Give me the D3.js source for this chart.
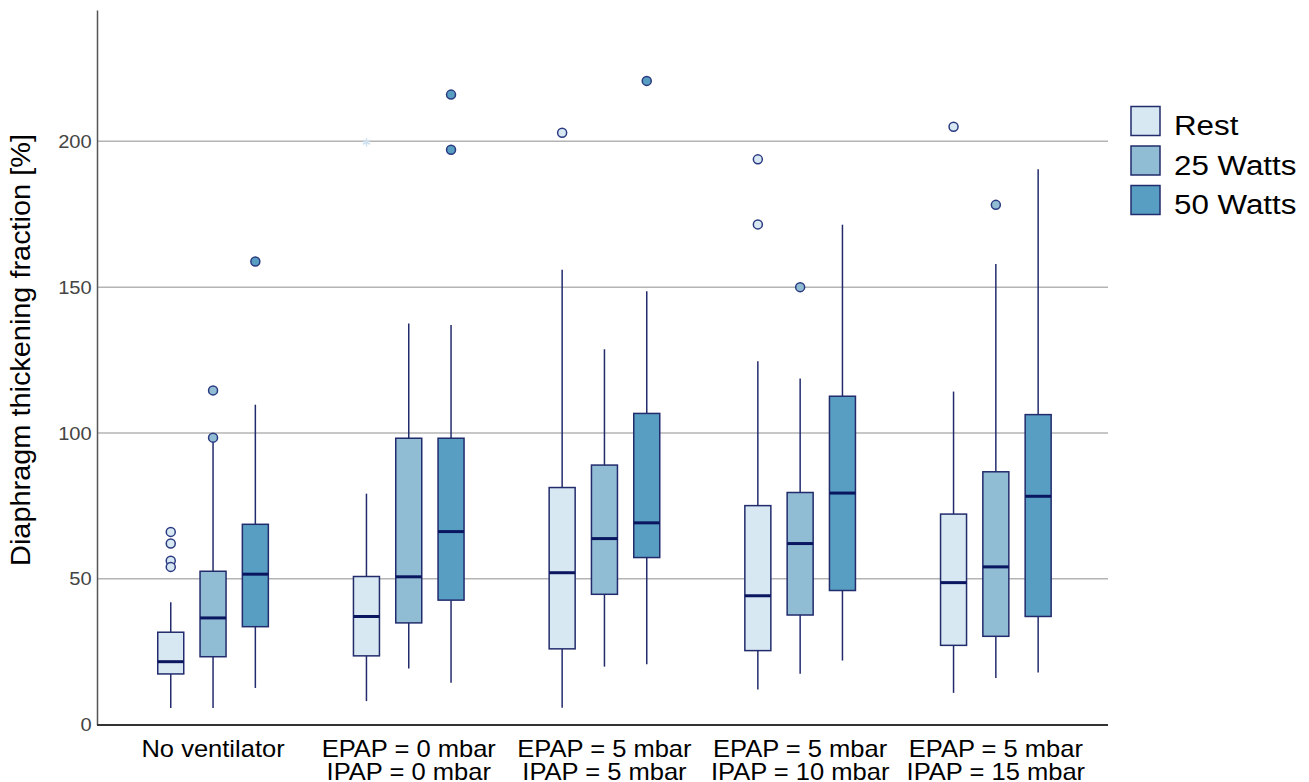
<!DOCTYPE html>
<html>
<head>
<meta charset="utf-8">
<script src="https://cdn.jsdelivr.net/npm/d3@7"></script>
<style>
  html, body { margin: 0; padding: 0; background: #fff; }
  svg { display: block; font-family: "Liberation Sans", Arial, sans-serif; }
</style>
</head>
<body>
<svg id="chart" width="1309" height="782"></svg>
<script>
// categories, two text lines each
const categories = ["No ventilator", "EPAP0/IPAP0", "EPAP5/IPAP5", "EPAP5/IPAP10", "EPAP5/IPAP15"];
const catLine1 = ["No ventilator", "EPAP = 0 mbar", "EPAP = 5 mbar", "EPAP = 5 mbar", "EPAP = 5 mbar"];
const catLine2 = ["", "IPAP = 0 mbar", "IPAP = 5 mbar", "IPAP = 10 mbar", "IPAP = 15 mbar"];

const series = ["Rest", "25 Watts", "50 Watts"];
const yTicks = [0, 50, 100, 150, 200];

// [whisker low, Q1, median, Q3, whisker high] per category
const restStats = [
  [5.7, 17.4, 21.6, 31.7, 42.0],
  [8.1, 23.6, 37.1, 50.8, 79.2],
  [5.8, 26.0, 52.1, 81.3, 156.0],
  [12.1, 25.4, 44.2, 75.1, 124.6],
  [10.9, 27.2, 48.7, 72.2, 114.2]
];
const watts25Stats = [
  [5.7, 23.3, 36.6, 52.6, 97.5],
  [19.3, 34.9, 50.7, 98.2, 137.5],
  [19.9, 44.7, 63.8, 89.0, 128.7],
  [17.5, 37.6, 62.1, 79.6, 118.7],
  [16.0, 30.3, 54.1, 86.7, 157.9]
];
const watts50Stats = [
  [12.6, 33.6, 51.6, 68.7, 109.7],
  [14.4, 42.7, 66.2, 98.2, 137.0],
  [20.7, 57.3, 69.2, 106.7, 148.6],
  [22.0, 46.0, 79.4, 112.6, 171.4],
  [17.9, 37.1, 78.3, 106.3, 190.4]
];

// outliers (circles) and extremes (asterisks) per category
const restOutliers = [[66.1, 62.1, 56.2, 54.1], [], [202.9], [193.8, 171.5], [205.0]];
const watts25Outliers = [[114.6, 98.4], [], [], [150.0], [178.2]];
const watts50Outliers = [[158.8], [216.0, 197.1], [220.7], [], []];
const restExtremes = [[], [199.7], [], [], []];

const fills = ["#d8e8f2", "#90bcd4", "#589ec2"];
const navy = "#222c6c";

const svg = d3.select("#chart");

const x = d3.scaleBand().domain(categories).range([115.2, 1093.7]);
const xs = d3.scalePoint().domain(series).range([-42.3, 42.3]);
const y = d3.scaleLinear().domain([0, 245]).range([724.7, 10]);
const boxW = 26;

const statsBySeries = [restStats, watts25Stats, watts50Stats];
const outBySeries = [restOutliers, watts25Outliers, watts50Outliers];

// gridlines
svg.append("g")
  .selectAll("line")
  .data(yTicks.filter(d => d > 0))
  .join("line")
  .attr("x1", 97).attr("x2", 1108)
  .attr("y1", d => y(d)).attr("y2", d => y(d))
  .attr("stroke", "#b4b4b4")
  .attr("stroke-width", 1.5);

// y axis
const gy = svg.append("g")
  .attr("transform", "translate(97,0)")
  .call(d3.axisLeft(y).tickValues(yTicks).tickSize(0).tickSizeOuter(0).tickPadding(5));
gy.select(".domain").attr("stroke", "#555").attr("stroke-width", 1.5);
gy.selectAll(".tick text")
  .attr("fill", "#444")
  .attr("transform", "scale(1.06,1)")
  .style("font-size", "19px");

// x axis
const gx = svg.append("g")
  .attr("transform", "translate(0,725)")
  .call(d3.axisBottom(x).tickSize(0).tickFormat(""));
gx.select(".domain").remove();
gx.append("line")
  .attr("x1", 97).attr("x2", 1108)
  .attr("stroke", "#333").attr("stroke-width", 2);
gx.selectAll(".tick text").remove();
gx.selectAll(".tick").each(function (d, i) {
  const t = d3.select(this).append("text")
    .attr("fill", "#000")
    .attr("text-anchor", "middle")
    .attr("transform", "scale(1.11,1)")
    .style("font-size", "23px");
  t.append("tspan").attr("x", 0).attr("y", 32).text(catLine1[i]);
  if (catLine2[i]) t.append("tspan").attr("x", 0).attr("y", 55).text(catLine2[i]);
});

// y title
svg.append("text")
  .attr("transform", "translate(30,350) rotate(-90) scale(1.07,1)")
  .attr("text-anchor", "middle")
  .attr("fill", "#000")
  .style("font-size", "27px")
  .text("Diaphragm thickening fraction [%]");

// boxes
const plot = svg.append("g");
series.forEach((s, si) => {
  categories.forEach((c, ci) => {
    const [lo, q1, med, q3, hi] = statsBySeries[si][ci];
    const cx = x(c) + x.bandwidth() / 2 + xs(s);
    const g = plot.append("g");
    g.append("line")
      .attr("x1", cx).attr("x2", cx)
      .attr("y1", y(hi)).attr("y2", y(q3))
      .attr("stroke", navy).attr("stroke-width", 1.5);
    g.append("line")
      .attr("x1", cx).attr("x2", cx)
      .attr("y1", y(q1)).attr("y2", y(lo))
      .attr("stroke", navy).attr("stroke-width", 1.5);
    g.append("rect")
      .attr("x", cx - boxW / 2).attr("y", y(q3))
      .attr("width", boxW).attr("height", y(q1) - y(q3))
      .attr("fill", fills[si])
      .attr("stroke", navy).attr("stroke-width", 1.5);
    g.append("line")
      .attr("x1", cx - boxW / 2).attr("x2", cx + boxW / 2)
      .attr("y1", y(med)).attr("y2", y(med))
      .attr("stroke", "#0b1660").attr("stroke-width", 3);

    g.selectAll("circle")
      .data(outBySeries[si][ci])
      .join("circle")
      .attr("cx", cx).attr("cy", d => y(d))
      .attr("r", 4.5)
      .attr("fill", fills[si])
      .attr("stroke", "#2a3a80").attr("stroke-width", 1.5);

    if (si === 0) {
      g.selectAll("path.extreme")
        .data(restExtremes[ci])
        .join("path")
        .attr("class", "extreme")
        .attr("transform", d => `translate(${cx},${y(d)})`)
        .attr("d", d3.symbol(d3.symbolAsterisk || d3.symbolCross, 50))
        .attr("fill", "none")
        .attr("stroke", "#cfe1ee")
        .attr("stroke-width", 1.5);
    }
  });
});

// legend
const legend = svg.append("g").attr("transform", "translate(1131,106.5)");
series.forEach((s, i) => {
  legend.append("rect")
    .attr("x", 0).attr("y", i * 39.5)
    .attr("width", 29).attr("height", 29)
    .attr("fill", fills[i])
    .attr("stroke", navy).attr("stroke-width", 1.5);
  legend.append("text")
    .attr("transform", `translate(43,${i * 39.5 + 28.5}) scale(1.16,1)`)
    .attr("fill", "#000")
    .style("font-size", "27px")
    .text(s);
});
</script>
</body>
</html>
